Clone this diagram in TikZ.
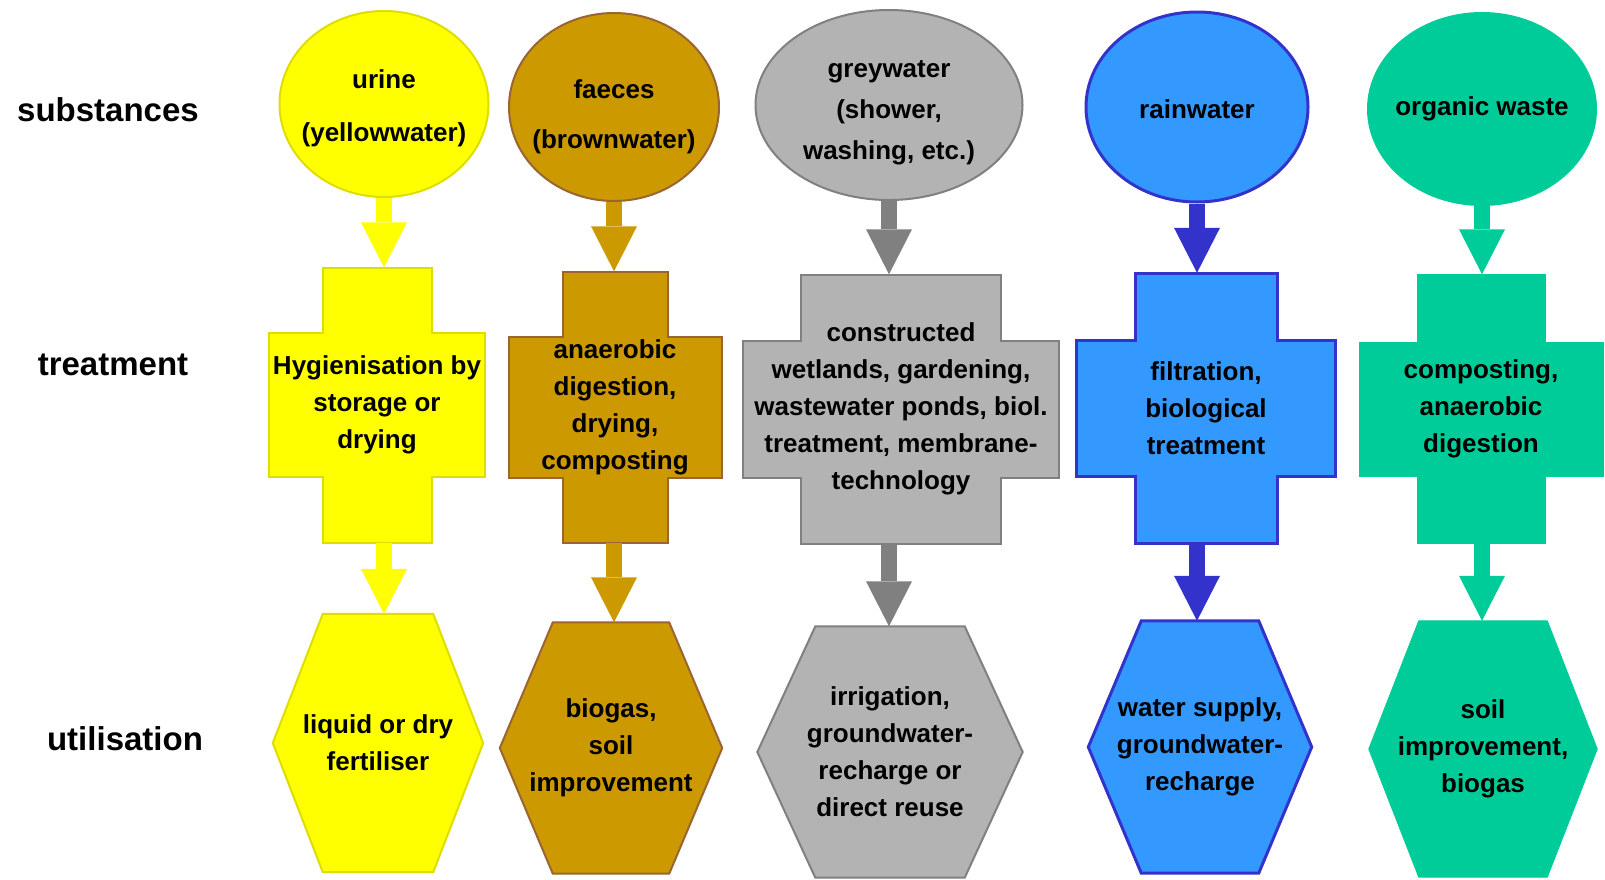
\documentclass[tikz,border=0pt]{standalone}
\usepackage{fontspec}
\setmainfont{Liberation Sans}
\usetikzlibrary{shapes.geometric,arrows.meta,calc}
\pgfdeclarelayer{background}
\pgfsetlayers{background,main}

\definecolor{urinecol}{HTML}{FFFF00}
\definecolor{urineline}{HTML}{DDDD00}
\definecolor{faecescol}{HTML}{CC9900}
\definecolor{faecesline}{HTML}{996633}
\definecolor{greycol}{HTML}{B3B3B3}
\definecolor{greyline}{HTML}{808080}
\definecolor{raincol}{HTML}{3399FF}
\definecolor{rainline}{HTML}{3333CC}
\definecolor{organiccol}{HTML}{00CC99}

\tikzset{
  txt/.style={font=\fontsize{26}{37}\selectfont\bfseries, align=center, inner sep=0pt},
  substbox/.style={ellipse, draw, line width=2pt, inner sep=0pt},
  treatbox/.style={txt, rectangle},
  utilbox/.style={txt, rectangle},
  rowlabel/.style={font=\fontsize{33}{40}\selectfont\bfseries},
  flow/.style={line width=16pt, -{Triangle[length=45pt,width=46pt,line width=0pt]}}
}

% cross outline: node, bar width, bar height, arm width, arm height, style
\newcommand{\crossoutline}[6]{%
  \begin{pgfonlayer}{background}
  \draw[#6] ($(#1)+({-#2/2},{-#3/2})$) -- ++(#2,0) -- ++(0,{(#3-#5)/2})
    -- ++({(#4-#2)/2},0) -- ++(0,#5) -- ++({-(#4-#2)/2},0) -- ++(0,{(#3-#5)/2})
    -- ++(-#2,0) -- ++(0,{-(#3-#5)/2}) -- ++({-(#4-#2)/2},0) -- ++(0,-#5)
    -- ++({(#4-#2)/2},0) -- cycle;
  \end{pgfonlayer}}

% hexagon outline: node, inset, style
\newcommand{\hexoutline}[3]{%
  \begin{pgfonlayer}{background}
  \draw[#3] (#1.west) -- ($(#1.north west)+(#2,0)$) -- ($(#1.north east)+(-#2,0)$)
    -- (#1.east) -- ($(#1.south east)+(-#2,0)$) -- ($(#1.south west)+(#2,0)$) -- cycle;
  \end{pgfonlayer}}

\begin{document}
\begin{tikzpicture}[x=1pt,y=-1pt]
\useasboundingbox (0,0) rectangle (1605,879);

\node[rowlabel] (lsub) at (108,110) {substances};
\node[rowlabel] (ltreat) at (113,365) {treatment};
\node[rowlabel] (lutil) at (125,739) {utilisation};

% substances
\node[substbox, fill=urinecol, draw=urineline, minimum width=209pt, minimum height=186pt,
  label={[txt,yshift=-4pt]center:urine\\[16pt](yellowwater)}] (s1) at (384,104) {};
\node[substbox, fill=faecescol, draw=faecesline, minimum width=210pt, minimum height=188pt,
  label={[txt,yshift=-10pt]center:faeces\\[13pt](brownwater)}] (s2) at (614,107) {};
\node[substbox, fill=greycol, draw=greyline, minimum width=267pt, minimum height=190pt,
  label={[txt,yshift=-8pt]center:greywater\\[4pt](shower,\\[4pt]washing, etc.)}] (s3) at (889,105) {};
\node[substbox, fill=raincol, draw=rainline, line width=3pt, minimum width=222pt, minimum height=190pt,
  label={[txt,yshift=-2pt]center:rainwater}] (s4) at (1197,107) {};
\node[substbox, fill=organiccol, draw=organiccol, minimum width=228pt, minimum height=192pt,
  label={[txt]center:organic waste}] (s5) at (1482,109) {};

% treatment
\node[treatbox, minimum width=216pt, minimum height=275pt] (t1) at (377,405) {Hygienisation by\\storage or\\drying};
\crossoutline{t1}{109}{275}{216}{144}{fill=urinecol, draw=urineline, line width=2pt}
\node[treatbox, minimum width=213pt, minimum height=271pt] (t2) at (615,407) {anaerobic\\digestion,\\drying,\\composting};
\crossoutline{t2}{105}{271}{213}{141}{fill=faecescol, draw=faecesline, line width=2pt}
\node[treatbox, minimum width=316pt, minimum height=269pt] (t3) at (901,409) {constructed\\wetlands, gardening,\\wastewater ponds, biol.\\treatment, membrane-\\technology};
\crossoutline{t3}{200}{269}{316}{137}{fill=greycol, draw=greyline, line width=2pt}
\node[treatbox, minimum width=259pt, minimum height=270pt] (t4) at (1206,408) {filtration,\\biological\\treatment};
\crossoutline{t4}{142}{270}{259}{136}{fill=raincol, draw=rainline, line width=3pt}
\node[treatbox, minimum width=244pt, minimum height=269pt] (t5) at (1481,409) {composting,\\anaerobic\\digestion};
\crossoutline{t5}{128}{269}{244}{134}{fill=organiccol, draw=organiccol, line width=1pt}

% utilisation
\node[utilbox, minimum width=210pt, minimum height=258pt] (u1) at (378,743) {liquid or dry\\fertiliser};
\hexoutline{u1}{50}{fill=urinecol, draw=urineline, line width=2pt}
\node[utilbox, minimum width=222pt, minimum height=251pt] (u2) at (611,748) {biogas,\\soil\\improvement};
\hexoutline{u2}{53}{fill=faecescol, draw=faecesline, line width=2pt}
\node[utilbox, minimum width=265pt, minimum height=251pt] (u3) at (890,752) {irrigation,\\groundwater-\\recharge or\\direct reuse};
\hexoutline{u3}{58}{fill=greycol, draw=greyline, line width=2pt}
\node[utilbox, minimum width=223pt, minimum height=252pt] (u4) at (1200,747) {water supply,\\groundwater-\\recharge};
\hexoutline{u4}{53}{fill=raincol, draw=rainline, line width=3pt}
\node[utilbox, minimum width=228pt, minimum height=256pt] (u5) at (1483,749) {soil\\improvement,\\biogas};
\hexoutline{u5}{50}{fill=organiccol, draw=organiccol, line width=1pt}

% flows
\draw[flow, urinecol] (s1.south) -- (t1.north -| s1.south);
\draw[flow, urinecol] (t1.south -| s1.south) -- (u1.north -| s1.south);
\draw[flow, faecescol] (s2.south) -- (t2.north -| s2.south);
\draw[flow, faecescol] (t2.south -| s2.south) -- (u2.north -| s2.south);
\draw[flow, greyline] (s3.south) -- (t3.north -| s3.south);
\draw[flow, greyline] (t3.south -| s3.south) -- (u3.north -| s3.south);
\draw[flow, rainline] (s4.south) -- (t4.north -| s4.south);
\draw[flow, rainline] (t4.south -| s4.south) -- (u4.north -| s4.south);
\draw[flow, organiccol] (s5.south) -- (t5.north -| s5.south);
\draw[flow, organiccol] (t5.south -| s5.south) -- (u5.north -| s5.south);
\end{tikzpicture}
\end{document}
